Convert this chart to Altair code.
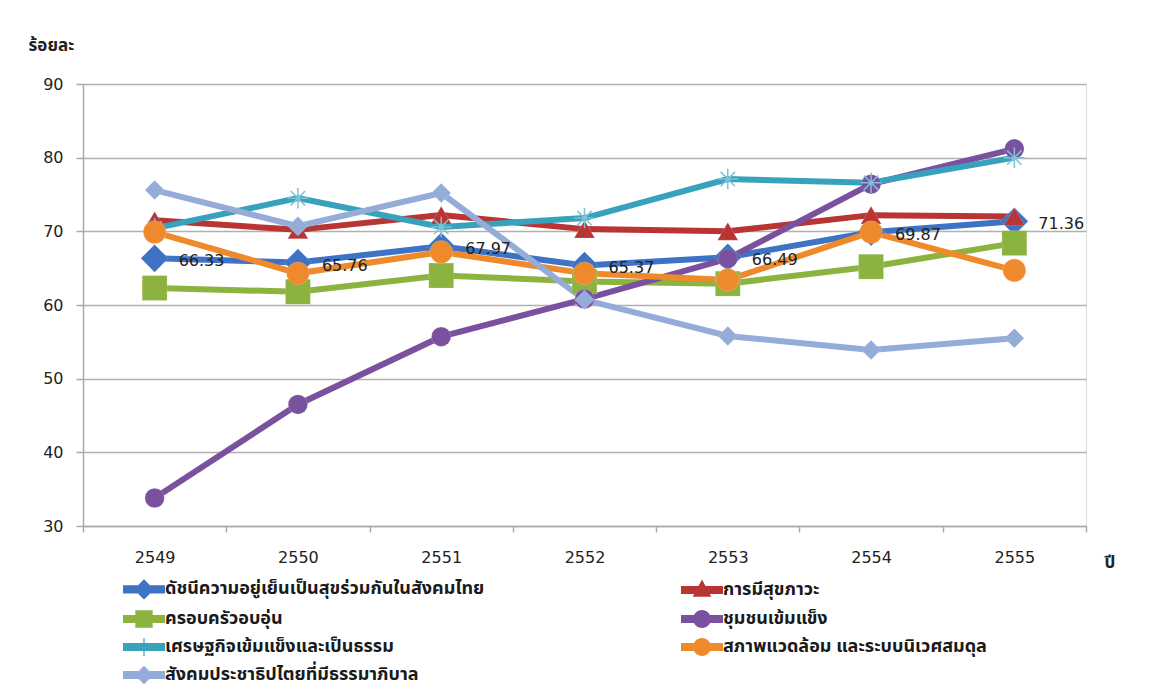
import altair as alt
import pandas as pd

years = ["2549", "2550", "2551", "2552", "2553", "2554", "2555"]
series_names = [
    "ดัชนีความอยู่เย็นเป็นสุขร่วมกันในสังคมไทย",
    "การมีสุขภาวะ",
    "ครอบครัวอบอุ่น",
    "ชุมชนเข้มแข็ง",
    "เศรษฐกิจเข้มแข็งและเป็นธรรม",
    "สภาพแวดล้อม และระบบนิเวศสมดุล",
    "สังคมประชาธิปไตยที่มีธรรมาภิบาล",
]
index_vals = [66.33, 65.76, 67.97, 65.37, 66.49, 69.87, 71.36]
health_vals = [71.5, 70.2, 72.2, 70.3, 70.0, 72.2, 72.0]
family_vals = [62.3, 61.8, 64.0, 63.2, 62.9, 65.2, 68.4]
community_vals = [33.8, 46.5, 55.7, 60.8, 66.3, 76.4, 81.2]
economy_vals = [70.4, 74.5, 70.6, 71.8, 77.1, 76.6, 80.0]
environment_vals = [69.9, 64.3, 67.2, 64.3, 63.4, 69.9, 64.7]
democracy_vals = [75.6, 70.7, 75.2, 60.7, 55.8, 53.9, 55.5]
all_vals = [index_vals, health_vals, family_vals, community_vals,
            economy_vals, environment_vals, democracy_vals]
y_ticks = [30, 40, 50, 60, 70, 80, 90]

colors = ["#3D72C4", "#B93533", "#8CB23F", "#7A519F", "#38A1BC", "#EE8A2C", "#95ABD8"]

ASTER = "M-1,0L1,0M0,-1L0,1M-0.7,-0.7L0.7,0.7M-0.7,0.7L0.7,-0.7"
point_shapes = ["diamond", "triangle-up", "square", "circle", ASTER, "circle", "diamond"]
point_sizes = [760, 420, 620, 380, 420, 520, 380]

BAR = "M-1.4,-0.27L1.4,-0.27L1.4,0.27L-1.4,0.27Z"
CIRCLE = ("M-0.6,0C-0.6,-0.33 -0.33,-0.6 0,-0.6C0.33,-0.6 0.6,-0.33 0.6,0"
          "C0.6,0.33 0.33,0.6 0,0.6C-0.33,0.6 -0.6,0.33 -0.6,0Z")
legend_marks = [
    "M0,-0.68L0.68,0L0,0.68L-0.68,0Z",
    "M0,-0.7L0.62,0.45L-0.62,0.45Z",
    "M-0.58,-0.58L0.58,-0.58L0.58,0.58L-0.58,0.58Z",
    CIRCLE,
    "M-0.6,-0.04L0.6,-0.04L0.6,0.04L-0.6,0.04ZM-0.04,-0.6L0.04,-0.6L0.04,0.6L-0.04,0.6Z",
    CIRCLE,
    "M0,-0.62L0.62,0L0,0.62L-0.62,0Z",
]
legend_paths = [BAR + m for m in legend_marks]

# legend entries fill column by column: arrange so the visual order is row-wise
legend_order = [0, 2, 4, 6, 1, 3, 5]
legend_domain = [series_names[i] for i in legend_order]
legend_colors = [colors[i] for i in legend_order]
legend_shapes = [legend_paths[i] for i in legend_order]

rows = []
for name, vals in zip(series_names, all_vals):
    for yr, v in zip(years, vals):
        rows.append({"year": yr, "series": name, "value": v})
df = pd.DataFrame(rows)

NUM_FONT = "DejaVu Sans"
THAI_FONT = "Noto Sans Thai, Noto Sans Thai UI, Loma, Garuda, Noto Sans, sans-serif"

x_enc = alt.X(
    "year:N",
    bandPosition=0.5,
    scale=alt.Scale(type="band", domain=years, paddingInner=0, paddingOuter=0),
    axis=alt.Axis(
        title="ปี", titleAngle=0, titleAlign="left", titleBaseline="middle",
        titleX=1021, titleY=36, titleFontSize=17, titleFontWeight="bold",
        titleFont=THAI_FONT, titleColor="#222",
        labelAngle=0, labelFont=NUM_FONT, labelFontSize=16, labelColor="#222",
        labelPadding=17, tickBand="extent", tickSize=6, tickColor="#aaaaaa",
        tickWidth=1.5, domainColor="#aaaaaa", domainWidth=1.5, grid=False,
    ),
)
y_enc = alt.Y(
    "value:Q",
    scale=alt.Scale(domain=[30, 90], nice=False, zero=False),
    axis=alt.Axis(
        values=y_ticks, title="ร้อยละ", titleAngle=0, titleAlign="left",
        titleBaseline="middle", titleX=-55, titleY=-39, titleFontSize=17,
        titleFontWeight="bold", titleFont=THAI_FONT, titleColor="#222",
        labelFont=NUM_FONT, labelFontSize=16, labelColor="#222", labelPadding=13,
        tickSize=7, tickColor="#aaaaaa", tickWidth=1.5, domainColor="#aaaaaa",
        domainWidth=1.5, gridColor="#b0b0b0", gridWidth=1.5,
    ),
)

base = alt.Chart(df).encode(x=x_enc, y=y_enc)

layers = []
for i, name in enumerate(series_names):
    sub = base.transform_filter(alt.datum.series == name)
    layers.append(sub.mark_line(color=colors[i], strokeWidth=6))
for i, name in enumerate(series_names):
    sub = base.transform_filter(alt.datum.series == name)
    if point_shapes[i] == ASTER:
        layers.append(sub.mark_point(shape=ASTER, size=point_sizes[i], filled=False,
                                     stroke="#7cc3d6", strokeWidth=1.5, opacity=1))
    else:
        layers.append(sub.mark_point(shape=point_shapes[i], size=point_sizes[i], filled=True,
                                     color=colors[i], opacity=1, stroke="#ffffff",
                                     strokeWidth=0.4, strokeOpacity=0.4))

labels = base.transform_filter(alt.datum.series == series_names[0]).mark_text(
    align="left", baseline="middle", dx=24, dy=3, font=NUM_FONT, fontSize=16, color="#222"
).encode(text=alt.Text("value:Q", format=".2f"))
layers.append(labels)

leg = alt.Legend(
    title=None, orient="none", legendX=46, legendY=490, columns=2,
    columnPadding=196, rowPadding=4, symbolSize=900, symbolStrokeWidth=0,
    labelFont=THAI_FONT, labelFontSize=18, labelFontWeight="bold",
    labelColor="#1a1a1a", labelOffset=6, labelLimit=0, padding=0,
)
legend_layer = alt.Chart(df).transform_filter("false").mark_point(filled=True, opacity=1).encode(
    x=x_enc, y=y_enc,
    color=alt.Color("series:N", scale=alt.Scale(domain=legend_domain, range=legend_colors), legend=leg),
    shape=alt.Shape("series:N", scale=alt.Scale(domain=legend_domain, range=legend_shapes), legend=leg),
)
layers.append(legend_layer)

chart = alt.layer(*layers).properties(
    width=1003, height=442,
    autosize=alt.AutoSizeParams(type="none"),
    padding={"left": 75, "top": 76, "right": 55, "bottom": 175},
).configure_view(stroke=None).configure(background="white")

chart.save("out.html", embed_options={"renderer": "svg", "actions": False})
